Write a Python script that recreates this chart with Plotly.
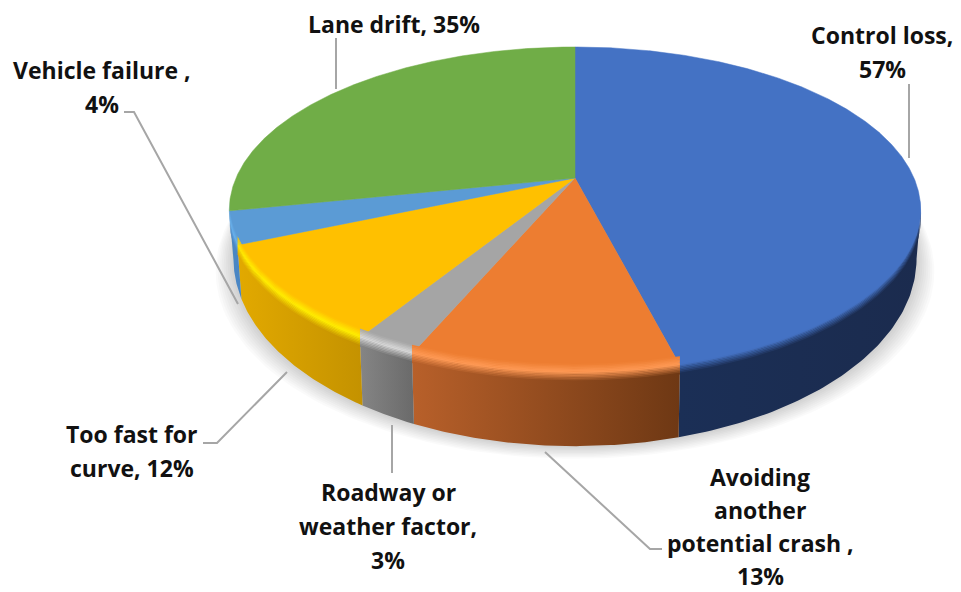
import numpy as np
import plotly.graph_objects as go

# ---- data -------------------------------------------------------------
categories = ["Control loss", "Avoiding another potential crash", "Roadway or weather factor",
              "Too fast for curve", "Vehicle failure", "Lane drift"]
values = [57, 13, 3, 12, 4, 35]
label_lines = [["Control loss,", "57%"],
               ["Avoiding", "another", "potential crash ,", "13%"],
               ["Roadway or", "weather factor,", "3%"],
               ["Too fast for", "curve, 12%"],
               ["Vehicle failure ,", "4%"],
               ["Lane drift, 35%"]]

# ---- style ------------------------------------------------------------
top_colors = ["#4472C4", "#ED7D31", "#A5A5A5", "#FFC000", "#5B9BD5", "#70AD47"]
hi_colors = ["#4472C4", "#FF9A55", "#D8D8D8", "#FFEE00", "#69B4F0", "#70AD47"]
wall_left = ["#1B2F56", "#B8602A", "#858585", "#E2A900", "#4A86C4", "#70AD47"]
wall_right = ["#1B2B4E", "#6E3814", "#6A6A6A", "#C49200", "#4A86C4", "#70AD47"]
label_anchor = [(882, 35), (760, 477), (388, 492), (132, 434), (102, 70), (394, 24)]
label_step = [34, 33, 34, 34, 34, 34]
leaders = [[(909, 84), (909, 158)],
           [(545, 452), (650, 549), (662, 549)],
           [(392, 425), (392, 473)],
           [(203, 443), (217, 443), (287, 372)],
           [(124, 112), (134, 112), (238, 304)],
           [(336, 38), (336, 89)]]
FONT = "Open Sans"
FONT_SIZE = 23
PAGE_MARGIN = 8  # the browser's default body margin around the plot

# ---- projection of a tilted disc --------------------------------------
CX, CY = 575.0, 178.0
K, A, R = 0.196, 156.7, 339.0
SX, SY, DEPTH = 0.988, 1.15, 44.0
T_FRONT = (np.arccos(-K), 2 * np.pi - np.arccos(-K))


def rim(t):
    d = 1 + K * np.cos(t)
    return CX + R * np.sin(t) / d, CY - A * np.cos(t) / d


def base(t):
    x, y = rim(t)
    return CX + SX * (x - CX), CY + DEPTH + SY * (y - CY)


def mix(c1, c2, f):
    a = [int(c1[i:i + 2], 16) for i in (1, 3, 5)]
    b = [int(c2[i:i + 2], 16) for i in (1, 3, 5)]
    return "#%02X%02X%02X" % tuple(round(p + (q - p) * f) for p, q in zip(a, b))


fracs = np.cumsum([0] + values) / sum(values)
edges = 2 * np.pi * fracs
fig = go.Figure()

# soft shadow under the disc
tt = np.linspace(0, 2 * np.pi, 240)
bx, by = base(tt)
for grow in np.linspace(18, 2, 9):
    fig.add_trace(go.Scatter(
        x=CX + (bx - CX) * (1 + grow / 345), y=by + 0.7 * grow,
        mode="lines", line_width=0, fill="toself", fillcolor="rgba(0,0,0,0.018)",
        hoverinfo="skip", showlegend=False))

# side walls
visible = []
for i in range(len(values)):
    a, b = max(edges[i], T_FRONT[0]), min(edges[i + 1], T_FRONT[1])
    if a < b:
        visible.append((i, a, b))
for i, a, b in visible:
    t = np.linspace(a, b, 80)
    x1, y1 = rim(t)
    x2, y2 = base(t)
    fig.add_trace(go.Scatter(
        x=np.r_[x1, x2[::-1]], y=np.r_[y1, y2[::-1]],
        mode="lines", line_width=0, fill="toself", name=categories[i],
        fillgradient=dict(type="horizontal", start=min(x1.min(), x2.min()),
                          stop=max(x1.max(), x2.max()),
                          colorscale=[[0, wall_left[i]], [1, wall_right[i]]]),
        hoverinfo="skip", showlegend=False))

# top face wedges
for i in range(len(values)):
    t = np.linspace(edges[i], edges[i + 1], max(8, int(values[i] * 8)))
    x, y = rim(t)
    fig.add_trace(go.Scatter(
        x=np.r_[CX, x, CX], y=np.r_[CY, y, CY], mode="lines",
        line=dict(width=0.5, color=top_colors[i]), fill="toself", fillcolor=top_colors[i],
        name=categories[i], text=f"{categories[i]}, {values[i]}%", hoverinfo="text",
        showlegend=False))

# bevel along the front rim
steps = np.arange(-9, 10, 1.5)
for i, a, b in visible:
    t = np.linspace(a, b, 60)
    x, y = rim(t)
    xmin, xmax = x.min(), x.max()
    for q0, q1 in zip(steps[:-1], steps[1:]):
        q = (q0 + q1) / 2
        if q < -1:
            c1 = c2 = mix(top_colors[i], hi_colors[i], (q + 9) / 8)
        else:
            f = min(1, (q + 1) / 9)
            c1 = mix(hi_colors[i], wall_left[i], f)
            c2 = mix(hi_colors[i], wall_right[i], f)
        fig.add_trace(go.Scatter(
            x=np.r_[x, x[::-1]], y=np.r_[y + q0, (y + q1 + 0.3)[::-1]],
            mode="lines", line_width=0, fill="toself",
            fillgradient=dict(type="horizontal", start=xmin, stop=max(xmax, xmin + 1),
                              colorscale=[[0, c1], [1, c2]]),
            hoverinfo="skip", showlegend=False))

# leader lines
for pts in leaders:
    fig.add_trace(go.Scatter(
        x=[p[0] for p in pts], y=[p[1] for p in pts], mode="lines",
        line=dict(color="#A6A6A6", width=2), hoverinfo="skip", showlegend=False))

# labels
for lines, (ax, ay), step in zip(label_lines, label_anchor, label_step):
    for n, line in enumerate(lines):
        fig.add_annotation(x=ax, y=ay + n * step, text=f"<b>{line}</b>", showarrow=False,
                           xanchor="center", yanchor="middle",
                           font=dict(family=FONT, size=FONT_SIZE, color="#111111"))

fig.update_layout(
    width=961 - PAGE_MARGIN, height=592 - PAGE_MARGIN, margin=dict(l=0, r=0, t=0, b=0),
    paper_bgcolor="white", plot_bgcolor="white", showlegend=False,
    xaxis=dict(range=[PAGE_MARGIN, 961], visible=False, fixedrange=True),
    yaxis=dict(range=[592, PAGE_MARGIN], visible=False, fixedrange=True),
)
fig.write_html("out.html")
